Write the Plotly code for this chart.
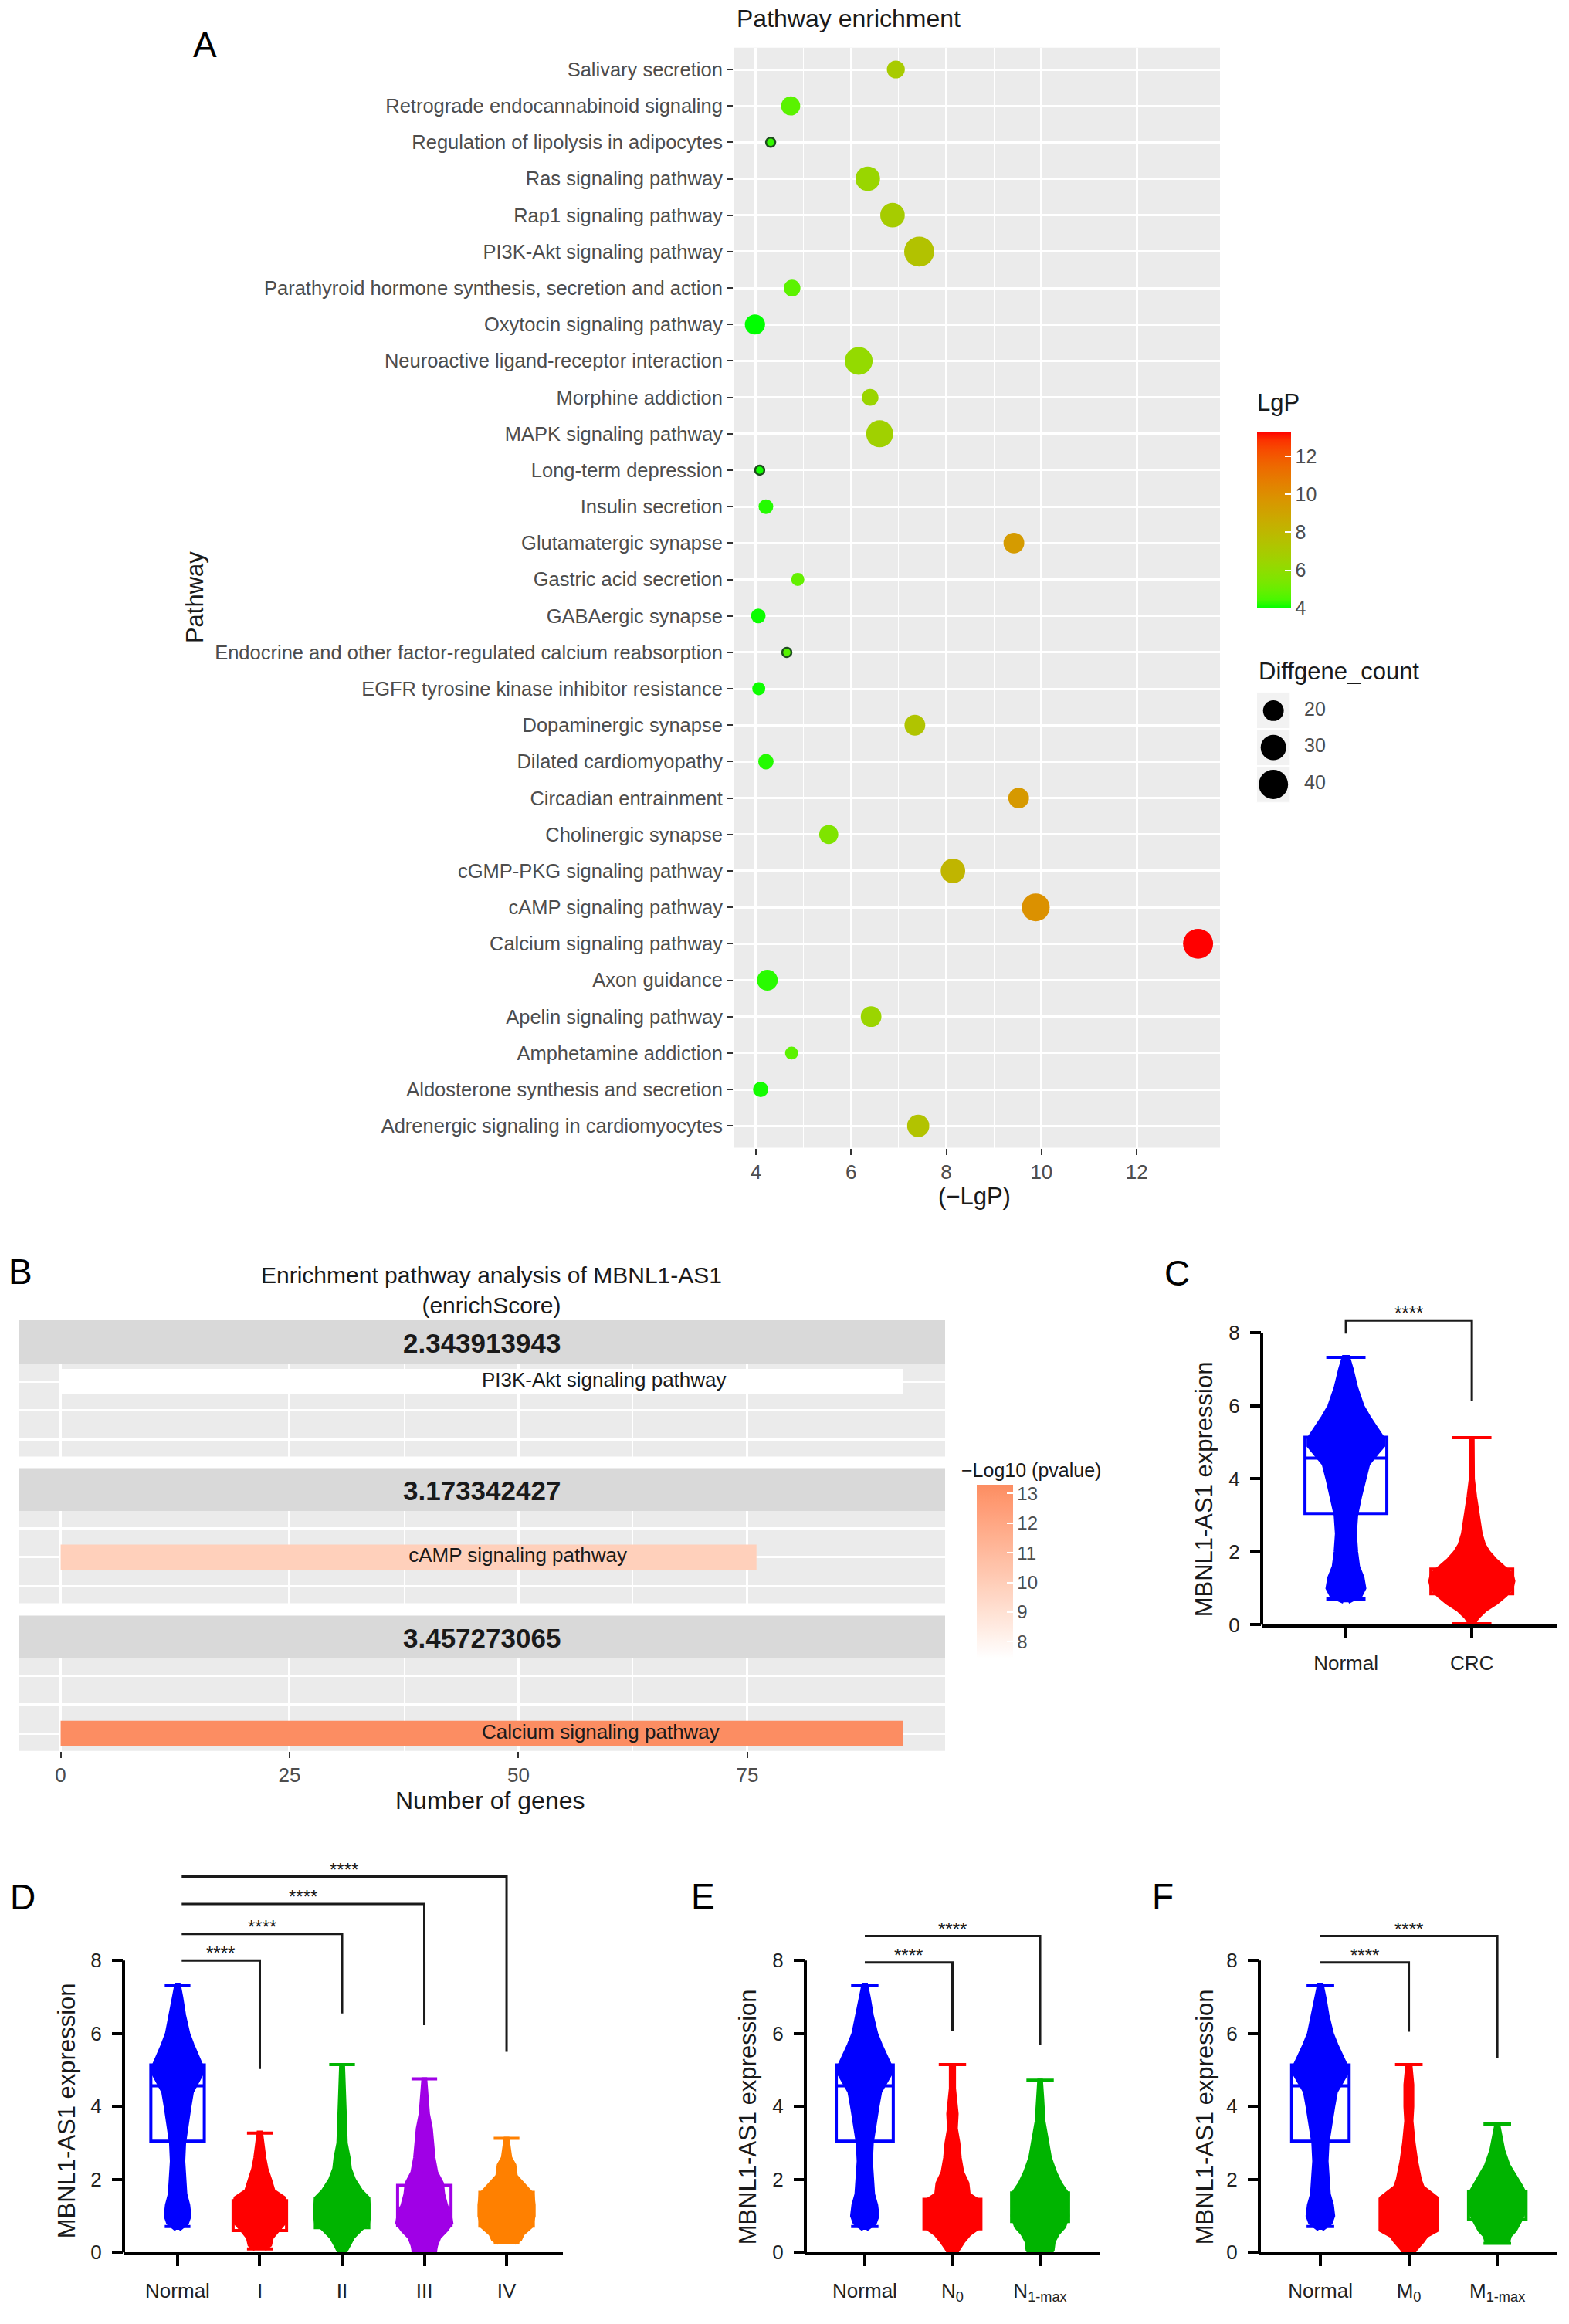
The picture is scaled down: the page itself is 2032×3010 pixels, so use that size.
import numpy as np
import plotly.graph_objects as go

W, H = 2032, 3010
FONT = "Liberation Sans"

# ---------------- Panel A data (bottom -> top) ----------------
pathways = [
    "Adrenergic signaling in cardiomyocytes",
    "Aldosterone synthesis and secretion",
    "Amphetamine addiction",
    "Apelin signaling pathway",
    "Axon guidance",
    "Calcium signaling pathway",
    "cAMP signaling pathway",
    "cGMP-PKG signaling pathway",
    "Cholinergic synapse",
    "Circadian entrainment",
    "Dilated cardiomyopathy",
    "Dopaminergic synapse",
    "EGFR tyrosine kinase inhibitor resistance",
    "Endocrine and other factor-regulated calcium reabsorption",
    "GABAergic synapse",
    "Gastric acid secretion",
    "Glutamatergic synapse",
    "Insulin secretion",
    "Long-term depression",
    "MAPK signaling pathway",
    "Morphine addiction",
    "Neuroactive ligand-receptor interaction",
    "Oxytocin signaling pathway",
    "Parathyroid hormone synthesis, secretion and action",
    "PI3K-Akt signaling pathway",
    "Rap1 signaling pathway",
    "Ras signaling pathway",
    "Regulation of lipolysis in adipocytes",
    "Retrograde endocannabinoid signaling",
    "Salivary secretion",
]
neg_lgp = [7.41, 4.10, 4.75, 6.42, 4.24, 13.29, 9.88, 8.14, 5.53, 9.52,
           4.21, 7.34, 4.06, 4.65, 4.05, 4.88, 9.42, 4.21, 4.08, 6.60,
           6.40, 6.16, 3.98, 4.76, 7.43, 6.87, 6.35, 4.31, 4.73, 6.94]
diffgene_count = [23, 11, 8, 20, 20, 42, 36, 28, 17, 20,
                  11, 20, 8, 4, 10, 8, 20, 10, 4, 34,
                  13, 36, 19, 13, 42, 28, 28, 4, 17, 15]
size_legend_counts = [20, 30, 40]
lgp_ticks = [4, 6, 8, 10, 12]
a_x_ticks = [4, 6, 8, 10, 12]

# ---------------- Panel B data ----------------
b_pathways = ["Calcium signaling pathway", "cAMP signaling pathway", "PI3K-Akt signaling pathway"]  # bottom -> top
b_facets = ["2.343913943", "3.173342427", "3.457273065"]
b_facet_pathway = ["PI3K-Akt signaling pathway", "cAMP signaling pathway", "Calcium signaling pathway"]
b_gene_counts = [92, 76, 92]
b_neglog10p = [7.43, 9.88, 13.29]
b_x_ticks = [0, 25, 50, 75]
b_cbar_ticks = [8, 9, 10, 11, 12, 13]

# ---------------- Panels C-F data ----------------
expr_ticks = [0, 2, 4, 6, 8]
# box stats: q1, median, q3, lower whisker, upper whisker
normal_box = [3.05, 4.57, 5.14, 0.71, 7.33]
normal_levels = [0.62, 0.7, 0.8, 1.0, 1.3, 1.6, 2.0, 2.5, 3.0, 3.5, 4.0, 4.4, 4.7, 4.9, 5.1, 5.3, 5.5, 5.7, 6.0, 6.5, 7.0, 7.35]
normal_width = [0.02, 0.07, 0.12, 0.15, 0.135, 0.10, 0.085, 0.075, 0.085, 0.115, 0.15, 0.18, 0.25, 0.3, 0.3, 0.26, 0.225, 0.185, 0.135, 0.085, 0.05, 0.02]

crc_box = [0.85, 1.15, 1.53, 0.03, 5.13]
crc_levels = [0.0, 0.2, 0.4, 0.6, 0.8, 1.0, 1.2, 1.4, 1.6, 1.8, 2.0, 2.2, 2.5, 3.0, 3.5, 4.0, 5.1]
crc_width = [0.012, 0.05, 0.11, 0.2, 0.27, 0.32, 0.334, 0.32, 0.25, 0.186, 0.136, 0.1, 0.074, 0.05, 0.03, 0.012, 0.01]

stage1_box = [0.6, 0.98, 1.42, 0.1, 3.27]
stage1_levels = [0.08, 0.2, 0.4, 0.6, 0.8, 1.0, 1.2, 1.5, 1.7, 2.0, 2.3, 2.6, 3.0, 3.3]
stage1_width = [0.06, 0.13, 0.15, 0.22, 0.3, 0.32, 0.32, 0.3, 0.17, 0.13, 0.085, 0.06, 0.035, 0.02]

stage2_box = [0.68, 1.08, 1.48, -0.05, 5.15]
stage2_levels = [-0.05, 0.2, 0.4, 0.6, 0.8, 1.0, 1.2, 1.5, 1.7, 2.0, 2.3, 2.6, 3.0, 3.7, 4.5, 5.15]
stage2_width = [0.03, 0.085, 0.135, 0.22, 0.32, 0.335, 0.335, 0.32, 0.235, 0.15, 0.1, 0.085, 0.05, 0.04, 0.027, 0.017]

stage3_box = [0.75, 1.22, 1.84, 0.04, 4.76]
stage3_levels = [0.03, 0.2, 0.4, 0.6, 0.8, 1.0, 1.3, 1.6, 1.9, 2.2, 2.6, 3.0, 3.4, 3.8, 4.2, 4.76]
stage3_width = [0.135, 0.15, 0.185, 0.27, 0.335, 0.32, 0.27, 0.235, 0.22, 0.15, 0.117, 0.1, 0.085, 0.05, 0.034, 0.017]

stage4_box = [0.72, 1.22, 1.65, 0.26, 3.13]
stage4_levels = [0.25, 0.35, 0.5, 0.7, 1.0, 1.3, 1.6, 1.8, 2.1, 2.4, 2.6, 3.13]
stage4_width = [0.1, 0.17, 0.2, 0.3, 0.335, 0.335, 0.32, 0.235, 0.117, 0.1, 0.05, 0.017]

n0_box = [0.65, 1.05, 1.46, -0.05, 5.15]
n0_levels = [-0.1, 0.1, 0.3, 0.5, 0.7, 1.0, 1.4, 1.6, 1.9, 2.2, 2.6, 3.0, 3.4, 3.8, 4.5, 5.15]
n0_width = [0.023, 0.073, 0.13, 0.2, 0.32, 0.32, 0.32, 0.19, 0.176, 0.117, 0.088, 0.073, 0.044, 0.053, 0.023, 0.023]

n1_box = [0.85, 1.22, 1.63, 0.02, 4.72]
n1_levels = [0.05, 0.3, 0.5, 0.7, 1.0, 1.3, 1.6, 1.9, 2.2, 2.6, 3.0, 3.6, 4.2, 4.72]
n1_width = [0.147, 0.16, 0.205, 0.28, 0.32, 0.31, 0.32, 0.235, 0.176, 0.117, 0.088, 0.044, 0.03, 0.015]

m0_box = [0.62, 1.03, 1.46, -0.05, 5.15]
m0_levels = [-0.1, 0.1, 0.3, 0.45, 0.6, 0.8, 1.2, 1.5, 1.8, 2.0, 2.5, 3.0, 3.6, 4.0, 4.6, 5.15]
m0_width = [0.03, 0.088, 0.16, 0.205, 0.32, 0.32, 0.32, 0.32, 0.16, 0.13, 0.088, 0.059, 0.035, 0.044, 0.044, 0.023]

m1_box = [0.9, 1.22, 1.66, 0.25, 3.52]
m1_levels = [0.25, 0.3, 0.45, 0.6, 0.8, 1.0, 1.3, 1.6, 1.8, 2.1, 2.4, 2.8, 3.2, 3.52]
m1_width = [0.088, 0.13, 0.147, 0.205, 0.25, 0.293, 0.32, 0.32, 0.28, 0.205, 0.13, 0.073, 0.044, 0.015]

c_labels = ["Normal", "CRC"]
d_labels = ["Normal", "I", "II", "III", "IV"]
e_labels = ["Normal", "N<sub>0</sub>", "N<sub>1-max</sub>"]
f_labels = ["Normal", "M<sub>0</sub>", "M<sub>1-max</sub>"]

# brackets: (x_start, x_end, y_bar, y_left_end, y_right_end)
c_brackets = [(0, 1, 8.34, 7.98, 6.13)]
d_brackets = [(0.05, 1, 8.0, 8.0, 5.03), (0.05, 2, 8.73, 8.73, 6.55),
              (0.05, 3, 9.55, 9.55, 6.23), (0.05, 4, 10.3, 10.3, 5.5)]
e_brackets = [(0, 1, 7.95, 7.95, 6.07), (0, 2, 8.67, 8.67, 5.68)]
f_brackets = [(0, 1, 7.95, 7.95, 6.05), (0, 2, 8.67, 8.67, 5.33)]
sig_label = "****"

# ---------------- helpers ----------------
def dom_x(a, b):
    return [a / W, b / W]

def dom_y(top, bottom):
    return [1 - bottom / H, 1 - top / H]

def hex_to_rgb(h):
    h = h.lstrip('#')
    return [int(h[i:i + 2], 16) for i in (0, 2, 4)]

def rgb_to_lab(rgb):
    c = np.array(rgb) / 255.0
    c = np.where(c <= 0.04045, c / 12.92, ((c + 0.055) / 1.055) ** 2.4)
    M = np.array([[0.4124, 0.3576, 0.1805], [0.2126, 0.7152, 0.0722], [0.0193, 0.1192, 0.9505]])
    xyz = M @ c / np.array([0.95047, 1.0, 1.08883])
    f = np.where(xyz > 0.008856, np.cbrt(xyz), 7.787 * xyz + 16 / 116)
    return np.array([116 * f[1] - 16, 500 * (f[0] - f[1]), 200 * (f[1] - f[2])])

def lab_to_hex(lab):
    L, a, b = lab
    fy = (L + 16) / 116
    fx = fy + a / 500
    fz = fy - b / 200
    f = np.array([fx, fy, fz])
    xyz = np.where(f ** 3 > 0.008856, f ** 3, (f - 16 / 116) / 7.787) * np.array([0.95047, 1.0, 1.08883])
    Mi = np.array([[3.2406, -1.5372, -0.4986], [-0.9689, 1.8758, 0.0415], [0.0557, -0.2040, 1.0570]])
    c = Mi @ xyz
    c = np.where(c <= 0.0031308, 12.92 * c, 1.055 * np.clip(c, 0, None) ** (1 / 2.4) - 0.055)
    c = np.clip(np.round(c * 255), 0, 255).astype(int)
    return '#%02x%02x%02x' % tuple(c)

def lab_scale(low, high, n=21):
    l1, l2 = rgb_to_lab(hex_to_rgb(low)), rgb_to_lab(hex_to_rgb(high))
    return [[t, lab_to_hex(l1 + (l2 - l1) * t)] for t in np.linspace(0, 1, n)]

def dot_size(counts):
    return list(6.0 * np.sqrt(np.array(counts, dtype=float)))

traces = []
shapes = []
annotations = []

def ann(text, x, y, size, xanchor='center', yanchor='middle', angle=0, color='#1a1a1a', **kw):
    annotations.append(dict(text=text, x=x / W, y=1 - y / H, xref='paper', yref='paper',
                            xanchor=xanchor, yanchor=yanchor, showarrow=False, textangle=angle,
                            font=dict(family=FONT, size=size, color=color), **kw))

layout = dict(width=W, height=H, margin=dict(l=0, r=0, t=0, b=0, pad=0), autosize=False,
              paper_bgcolor='white', plot_bgcolor='white', showlegend=False,
              font=dict(family=FONT, color='#1a1a1a'))

# ================= Panel A =================
layout['xaxis'] = dict(domain=dom_x(950, 1580), range=[3.53, 13.75], tickvals=a_x_ticks,
                       ticks='outside', ticklen=8, tickwidth=2, tickcolor='#333333',
                       tickfont=dict(size=26, color='#4d4d4d', family=FONT),
                       showgrid=True, gridcolor='white', gridwidth=2.8,
                       minor=dict(tickvals=[5, 7, 9, 11, 13], showgrid=True, gridcolor='white', gridwidth=1.4),
                       zeroline=False, showline=False, anchor='y')
layout['yaxis'] = dict(domain=dom_y(62, 1494), type='category', categoryorder='array', categoryarray=pathways,
                       range=[-0.6, len(pathways) - 0.4], ticks='outside', ticklen=8, tickwidth=2,
                       tickcolor='#333333', tickfont=dict(size=25.5, color='#4d4d4d', family=FONT),
                       showgrid=True, gridcolor='white', gridwidth=2.8, zeroline=False, anchor='x')
shapes.append(dict(type='rect', xref='x domain', yref='y domain', x0=0, x1=1, y0=0, y1=1,
                   fillcolor='#EBEBEB', line=dict(width=0), layer='below'))

line_w = [2.5 if c <= 5 else 0 for c in diffgene_count]
traces.append(go.Scatter(x=neg_lgp, y=pathways, mode='markers', xaxis='x', yaxis='y',
                         marker=dict(color=neg_lgp, coloraxis='coloraxis', size=dot_size(diffgene_count),
                                     sizemode='diameter', opacity=1,
                                     line=dict(width=line_w, color='#1e4d1e'))))
layout['coloraxis'] = dict(colorscale=lab_scale('#00FF00', '#FF0000'), cmin=min(neg_lgp), cmax=max(neg_lgp),
                           colorbar=dict(x=1628 / W, xanchor='left', y=1 - 562 / H, yanchor='top',
                                         len=229, lenmode='pixels', thickness=44, xpad=0, ypad=0,
                                         outlinewidth=0, tickvals=lgp_ticks, ticks='inside', ticklen=8,
                                         tickwidth=2, tickcolor='white',
                                         tickfont=dict(size=25, color='#4d4d4d', family=FONT),
                                         title=dict(text='')))
ann("Pathway enrichment", 952, 24, 32, xanchor='left')
ann("Pathway", 252, 778, 31, angle=-90)
ann("(−LgP)", 1262, 1557, 31)
ann("LgP", 1626, 524, 31, xanchor='left')
ann("Diffgene_count", 1628, 874, 31, xanchor='left')
ann("A", 265, 58, 46, color='black')

# size legend
layout['xaxis2'] = dict(domain=dom_x(1627, 1760), range=[-0.5, 2.5], visible=False, anchor='y2')
layout['yaxis2'] = dict(domain=dom_y(901, 1045), range=[2.5, -0.5], visible=False, anchor='x2')
for i in range(len(size_legend_counts)):
    shapes.append(dict(type='rect', xref='x2', yref='y2', x0=-0.5, x1=0.5, y0=i - 0.5, y1=i + 0.5,
                       fillcolor='#F2F2F2', line=dict(width=2, color='white'), layer='below'))
traces.append(go.Scatter(x=[0] * len(size_legend_counts), y=list(range(len(size_legend_counts))),
                         mode='markers', xaxis='x2', yaxis='y2',
                         marker=dict(color='#000000', opacity=1, size=dot_size(size_legend_counts),
                                     sizemode='diameter', line=dict(width=0))))
traces.append(go.Scatter(x=[0.9] * len(size_legend_counts), y=list(range(len(size_legend_counts))),
                         mode='text', text=[str(c) for c in size_legend_counts], textposition='middle right',
                         textfont=dict(size=25, color='#4d4d4d', family=FONT), xaxis='x2', yaxis='y2'))

# ================= Panel B =================
b_body = [(1776, 1896), (1967, 2087), (2159, 2279)]
b_strip = [(1718, 1776), (1911, 1967), (2103, 2159)]
for i in range(3):
    n = 3 + i
    last = (i == 2)
    layout[f'xaxis{n}'] = dict(domain=dom_x(24, 1224), range=[-4.6, 96.6], tickvals=b_x_ticks,
                               showgrid=True, gridcolor='white', gridwidth=2.8,
                               minor=dict(tickvals=[12.5, 37.5, 62.5, 87.5], showgrid=True,
                                          gridcolor='white', gridwidth=1.4),
                               zeroline=False, showline=False, anchor=f'y{n}',
                               showticklabels=last, ticks='outside' if last else '', ticklen=8, tickwidth=2,
                               tickcolor='#333333', tickfont=dict(size=26, color='#4d4d4d', family=FONT))
    layout[f'yaxis{n}'] = dict(domain=dom_y(*b_body[i]), range=[-0.6, 2.6], tickvals=[0, 1, 2],
                               showticklabels=False, ticks='', showgrid=True, gridcolor='white',
                               gridwidth=2.8, zeroline=False, anchor=f'x{n}')
    shapes.append(dict(type='rect', xref=f'x{n} domain', yref=f'y{n} domain', x0=0, x1=1, y0=0, y1=1,
                       fillcolor='#EBEBEB', line=dict(width=0), layer='below'))
    shapes.append(dict(type='rect', xref='paper', yref='paper', x0=24 / W, x1=1224 / W,
                       y0=1 - b_strip[i][1] / H, y1=1 - b_strip[i][0] / H,
                       fillcolor='#D9D9D9', line=dict(width=0), layer='below'))
    ann('<b>%s</b>' % b_facets[i], 624, (b_strip[i][0] + b_strip[i][1]) / 2 + 1, 35)
    ypos = b_pathways.index(b_facet_pathway[i])
    traces.append(go.Bar(x=[b_gene_counts[i]], y=[ypos], orientation='h', width=0.88,
                         marker=dict(color=[b_neglog10p[i]], coloraxis='coloraxis2', line=dict(width=0)),
                         xaxis=f'x{n}', yaxis=f'y{n}'))
    traces.append(go.Scatter(x=[b_gene_counts[i] / 2], y=[ypos], mode='text', text=[b_facet_pathway[i]],
                             textposition='middle right', textfont=dict(size=26, color='#1a1a1a', family=FONT),
                             xaxis=f'x{n}', yaxis=f'y{n}'))

layout['coloraxis2'] = dict(colorscale=lab_scale('#FFFFFF', '#FC8D62'), cmin=min(b_neglog10p), cmax=max(b_neglog10p),
                            colorbar=dict(x=1265 / W, xanchor='left', y=1 - 1933 / H, yanchor='top',
                                          len=225, lenmode='pixels', thickness=47, xpad=0, ypad=0,
                                          outlinewidth=0, tickvals=b_cbar_ticks, ticks='inside', ticklen=8,
                                          tickwidth=2, tickcolor='white',
                                          tickfont=dict(size=24, color='#4d4d4d', family=FONT),
                                          title=dict(text='')))
ann("Enrichment pathway analysis of MBNL1-AS1<br>(enrichScore)", 636, 1679, 30)
ann("Number of genes", 634, 2344, 32)
ann("−Log10 (pvalue)", 1243, 1914, 25, xanchor='left')
ann("B", 26, 1655, 46, color='black')

# ================= Panels C-F =================
def expr_panel(n, xdom, ydom, xrange, yrange, labels, groups, brackets):
    layout[f'xaxis{n}'] = dict(domain=dom_x(*xdom), range=xrange, tickvals=list(range(len(labels))),
                               ticktext=labels, ticks='outside', ticklen=14, tickwidth=4, tickcolor='black',
                               showline=True, linewidth=4, linecolor='black', showgrid=False, zeroline=False,
                               tickfont=dict(size=26, color='#222222', family=FONT), ticklabelstandoff=9,
                               anchor=f'y{n}')
    layout[f'yaxis{n}'] = dict(domain=dom_y(*ydom), range=yrange, tickvals=expr_ticks,
                               ticks='outside', ticklen=14, tickwidth=4, tickcolor='black',
                               showline=False, showgrid=False, zeroline=False,
                               tickfont=dict(size=26, color='#222222', family=FONT), ticklabelstandoff=8,
                               anchor=f'x{n}')
    shapes.append(dict(type='line', xref=f'x{n} domain', yref=f'y{n}', x0=0, x1=0,
                       y0=expr_ticks[0], y1=expr_ticks[-1], line=dict(color='black', width=4)))
    for pos, (color, box, levels, widths) in enumerate(groups):
        lv = np.array(levels)
        wd = np.array(widths)
        xs = np.concatenate([pos + wd, (pos - wd)[::-1]])
        ys = np.concatenate([lv, lv[::-1]])
        traces.append(go.Scatter(x=xs, y=ys, mode='lines', fill='toself', fillcolor=color,
                                 line=dict(color=color, width=4), xaxis=f'x{n}', yaxis=f'y{n}'))
        traces.append(go.Box(x=[pos], q1=[box[0]], median=[box[1]], q3=[box[2]],
                             lowerfence=[box[3]], upperfence=[box[4]], orientation='v',
                             width=0.65, whiskerwidth=0.48, boxpoints=False,
                             line=dict(color=color, width=4), fillcolor='rgba(0,0,0,0)',
                             xaxis=f'x{n}', yaxis=f'y{n}'))
    for (x0, x1, yb, yl, yr) in brackets:
        traces.append(go.Scatter(x=[x0, x0, x1, x1], y=[yl, yb, yb, yr], mode='lines',
                                 line=dict(color='#1a1a1a', width=3), xaxis=f'x{n}', yaxis=f'y{n}'))
        annotations.append(dict(text=sig_label, x=(x0 + x1) / 2, y=yb, xref=f'x{n}', yref=f'y{n}',
                                xanchor='center', yanchor='bottom', yshift=-6, showarrow=False,
                                font=dict(family=FONT, size=24, color='#1a1a1a')))

BLUE, RED, GREEN, PURPLE, ORANGE = '#0000FF', '#FF0000', '#00B400', '#A000E6', '#FF8000'

expr_panel(6, (1634, 2017), (1680, 2115), [-0.669, 1.68], [0, 435 / 47.5], c_labels,
           [(BLUE, normal_box, normal_levels, normal_width),
            (RED, crc_box, crc_levels, crc_width)], c_brackets)
expr_panel(7, (160, 729), (2400, 2932), [-0.657, 4.685], [0, 532 / 47.5], d_labels,
           [(BLUE, normal_box, normal_levels, normal_width),
            (RED, stage1_box, stage1_levels, stage1_width),
            (GREEN, stage2_box, stage2_levels, stage2_width),
            (PURPLE, stage3_box, stage3_levels, stage3_width),
            (ORANGE, stage4_box, stage4_levels, stage4_width)], d_brackets)
expr_panel(8, (1043, 1424), (2400, 2932), [-0.678, 2.678], [0, 532 / 47.5], e_labels,
           [(BLUE, normal_box, normal_levels, normal_width),
            (RED, n0_box, n0_levels, n0_width),
            (GREEN, n1_box, n1_levels, n1_width)], e_brackets)
expr_panel(9, (1631, 2017), (2400, 2932), [-0.69, 2.68], [0, 532 / 47.5], f_labels,
           [(BLUE, normal_box, normal_levels, normal_width),
            (RED, m0_box, m0_levels, m0_width),
            (GREEN, m1_box, m1_levels, m1_width)], f_brackets)

ann("MBNL1-AS1 expression", 1559, 1939, 31, angle=-90)
ann("MBNL1-AS1 expression", 86, 2748, 31, angle=-90)
ann("MBNL1-AS1 expression", 968, 2756, 31, angle=-90)
ann("MBNL1-AS1 expression", 1560, 2756, 31, angle=-90)
ann("C", 1524, 1657, 46, color='black')
ann("D", 29, 2469, 46, color='black')
ann("E", 910, 2468, 46, color='black')
ann("F", 1506, 2468, 46, color='black')

layout['shapes'] = shapes
layout['annotations'] = annotations
fig = go.Figure(data=traces, layout=layout)
fig.write_html("out.html", config={'displayModeBar': False},
               post_script="document.body.style.margin='0px';")
